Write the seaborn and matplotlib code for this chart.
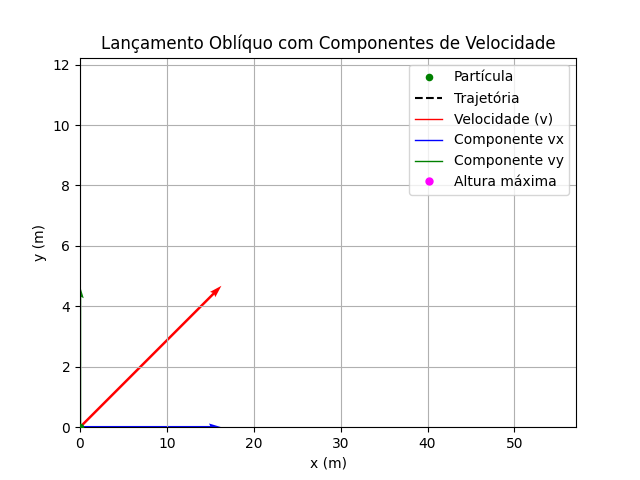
import seaborn as sns
import matplotlib
matplotlib.use("Agg")
import matplotlib.pyplot as plt
import numpy as np
import pandas as pd

# parametros do lancamento
v0 = 20.0        # m/s
angulo = 45.0    # graus
g = 9.81

# posicao da particula no primeiro quadro
particula_x = [0.0]
particula_y = [0.0]

# trajetoria e altura maxima ainda vazias (quadro inicial)
traj_x = []
traj_y = []
hmax_x = []
hmax_y = []

theta = np.radians(angulo)
vx = v0 * np.cos(theta)
vy = v0 * np.sin(theta)
alcance = v0 ** 2 * np.sin(2 * theta) / g
altura = (v0 * np.sin(theta)) ** 2 / (2 * g)

fig, ax = plt.subplots(figsize=(6.4, 4.8), dpi=100)

df = pd.DataFrame({"x": particula_x, "y": particula_y})
sns.scatterplot(data=df, x="x", y="y", color="green", s=30, ax=ax,
                edgecolor="green", linewidth=0, zorder=3, label="Partícula")

ax.plot(traj_x, traj_y, "k--", label="Trajetória")
ax.plot([], [], "r-", lw=1, label="Velocidade (v)")
ax.plot([], [], "b-", lw=1, label="Componente vx")
ax.plot([], [], "g-", lw=1, label="Componente vy")
ax.plot(hmax_x, hmax_y, "o", color="magenta", markersize=5, label="Altura máxima")

# vetores de velocidade
x0, y0 = particula_x[0], particula_y[0]
kw = dict(scale=10, scale_units="inches", width=0.005)
ax.quiver(x0, y0, vx, vy, color="red", **kw)
ax.quiver(x0, y0, vx, 0, color="blue", **kw)
ax.quiver(x0, y0, 0, vy, color="green", **kw)

ax.set_xlim(0, alcance * 1.4)
ax.set_ylim(0, altura * 1.2)
ax.set_xlabel("x (m)")
ax.set_ylabel("y (m)")
ax.set_title("Lançamento Oblíquo com Componentes de Velocidade")
ax.grid(True)
ax.legend(loc="upper right")

fig.savefig("out.png", dpi=100)
